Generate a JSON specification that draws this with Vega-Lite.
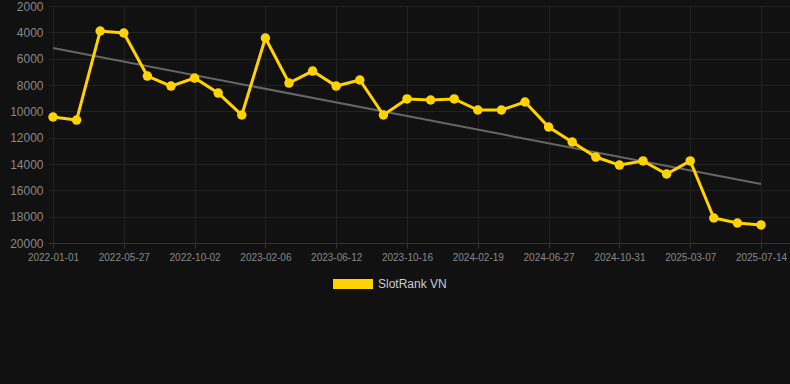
{
  "$schema": "https://vega.github.io/schema/vega-lite/v6.json",
  "width": 742,
  "height": 237,
  "autosize": {"type": "none"},
  "padding": {"left": 48, "top": 6, "right": 0, "bottom": 141},
  "background": "#111111",
  "config": {
    "view": {"stroke": null},
    "font": "Liberation Sans",
    "axis": {"labelFont": "Liberation Sans", "labelColor": "#888888", "gridColor": "#222222", "gridWidth": 1, "title": null},
    "legend": {"labelFont": "Liberation Sans"}
  },
  "datasets": {
    "main": [
      {"date": "2022-01-01", "rank": 10430},
      {"date": "2022-02-18", "rank": 10660},
      {"date": "2022-04-08", "rank": 3900},
      {"date": "2022-05-27", "rank": 4050},
      {"date": "2022-07-08", "rank": 7320},
      {"date": "2022-08-20", "rank": 8080},
      {"date": "2022-10-02", "rank": 7470},
      {"date": "2022-11-13", "rank": 8610},
      {"date": "2022-12-26", "rank": 10280},
      {"date": "2023-02-06", "rank": 4430},
      {"date": "2023-03-20", "rank": 7850},
      {"date": "2023-05-01", "rank": 6940},
      {"date": "2023-06-12", "rank": 8080},
      {"date": "2023-07-24", "rank": 7620},
      {"date": "2023-09-04", "rank": 10280},
      {"date": "2023-10-16", "rank": 9060},
      {"date": "2023-11-27", "rank": 9140},
      {"date": "2024-01-08", "rank": 9060},
      {"date": "2024-02-19", "rank": 9900},
      {"date": "2024-04-01", "rank": 9900},
      {"date": "2024-05-14", "rank": 9290},
      {"date": "2024-06-27", "rank": 11190},
      {"date": "2024-08-08", "rank": 12330},
      {"date": "2024-09-19", "rank": 13470},
      {"date": "2024-10-31", "rank": 14080},
      {"date": "2024-12-12", "rank": 13770},
      {"date": "2025-01-24", "rank": 14760},
      {"date": "2025-03-07", "rank": 13770},
      {"date": "2025-04-19", "rank": 18100},
      {"date": "2025-06-01", "rank": 18480},
      {"date": "2025-07-14", "rank": 18630}
    ],
    "trend": [
      {"date": "2022-01-01", "rank": 5190},
      {"date": "2025-07-14", "rank": 15520}
    ]
  },
  "encoding": {
    "x": {
      "field": "date",
      "type": "ordinal",
      "scale": {"type": "point", "padding": 0.72, "align": 0.147},
      "axis": {
        "values": ["2022-01-01", "2022-05-27", "2022-10-02", "2023-02-06", "2023-06-12", "2023-10-16", "2024-02-19", "2024-06-27", "2024-10-31", "2025-03-07", "2025-07-14"],
        "labelAngle": 0,
        "grid": true,
        "domainColor": "#333333",
        "tickColor": "#333333",
        "tickSize": 5,
        "labelFontSize": 10,
        "labelPadding": 4
      }
    },
    "y": {
      "field": "rank",
      "type": "quantitative",
      "scale": {"domain": [2000, 20000], "reverse": true, "nice": false, "zero": false},
      "axis": {
        "values": [2000, 4000, 6000, 8000, 10000, 12000, 14000, 16000, 18000, 20000],
        "format": "d",
        "domain": false,
        "ticks": false,
        "labelPadding": 5,
        "labelFontSize": 12,
        "grid": true
      }
    }
  },
  "layer": [
    {
      "data": {"name": "trend"},
      "mark": {"type": "line", "color": "#666666", "strokeWidth": 2}
    },
    {
      "data": {"name": "main"},
      "mark": {"type": "line", "strokeWidth": 3},
      "encoding": {
        "color": {
          "datum": "SlotRank VN",
          "scale": {"range": ["#FFD200"]},
          "legend": {
            "orient": "none",
            "legendX": 295,
            "legendY": 268,
            "padding": 0,
            "symbolType": "M-2,-0.5H2V0.5H-2Z",
            "symbolSize": 400,
            "symbolStrokeWidth": 0,
            "symbolOpacity": 1,
            "symbolFillColor": "#FFD200",
            "labelColor": "#cccccc",
            "labelFontSize": 12,
            "labelOffset": 15,
            "title": null
          }
        }
      }
    },
    {
      "data": {"name": "main"},
      "mark": {"type": "point", "filled": true, "size": 90, "opacity": 1},
      "encoding": {
        "color": {"datum": "SlotRank VN"}
      }
    }
  ]
}
